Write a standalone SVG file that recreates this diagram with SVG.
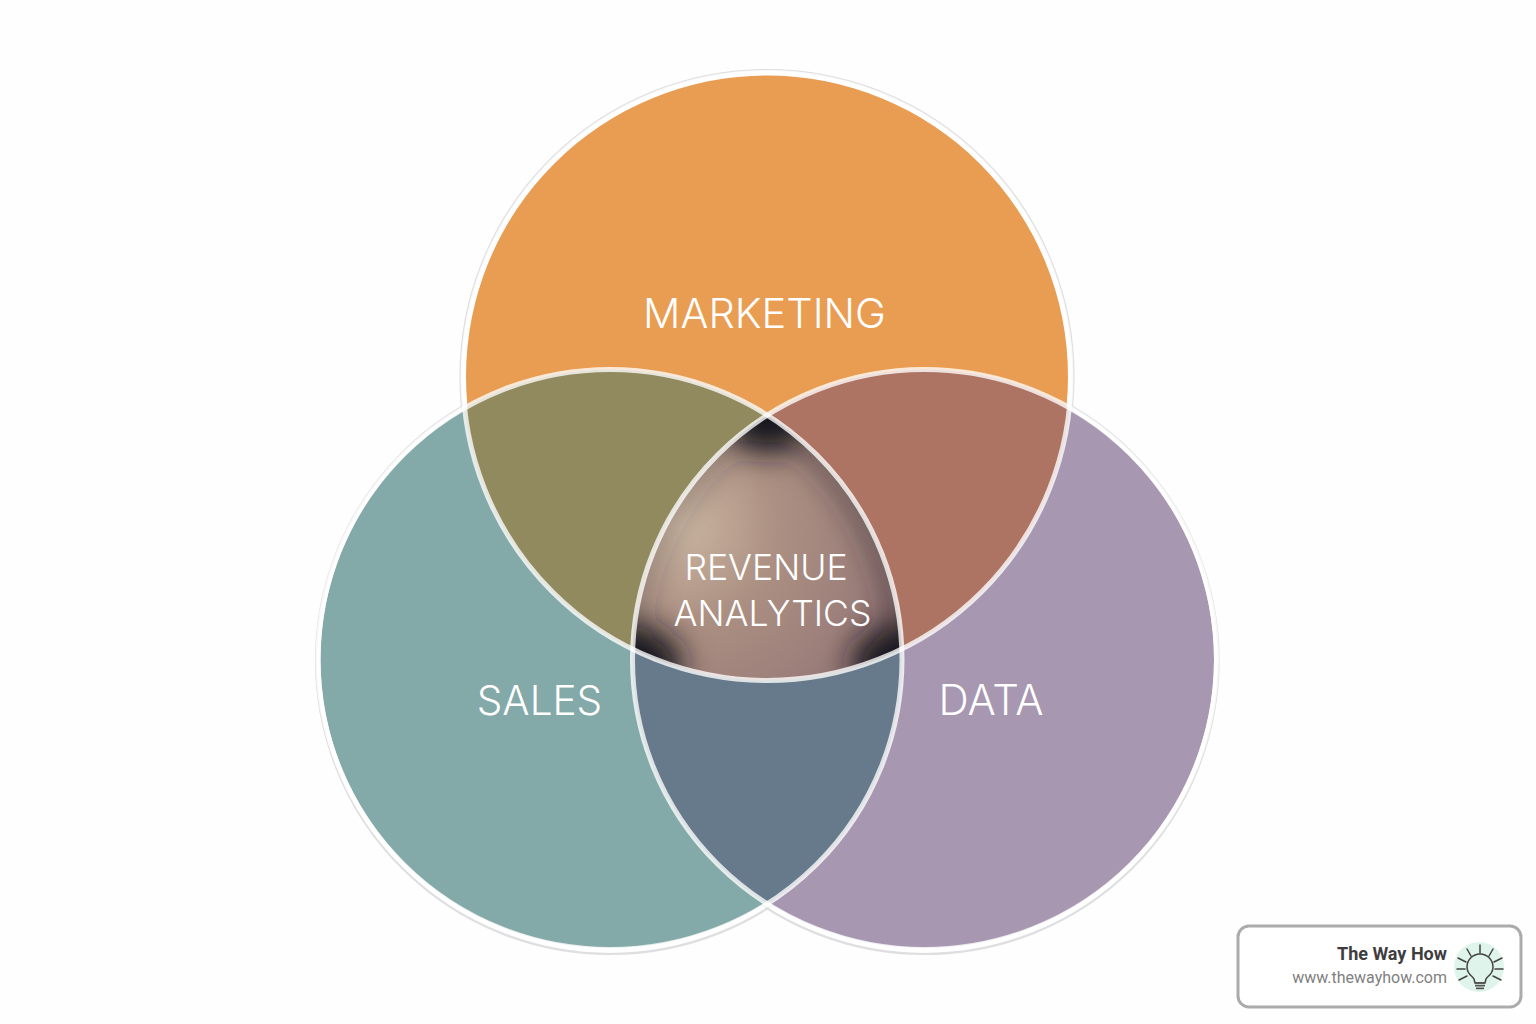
<svg xmlns="http://www.w3.org/2000/svg" width="1536" height="1024" viewBox="0 0 1536 1024">
<style>
.lbl{font-family:"Inter","Liberation Sans",sans-serif;font-weight:340;fill:#fff;text-anchor:middle}
.rev{font-size:35.600px}
.gray{fill:none;stroke:#dfdee1;stroke-width:2.200}
.ring{fill:none;stroke:#fff;stroke-opacity:.78;stroke-width:5}
.tick{stroke:#444;stroke-width:1.5;stroke-linecap:round;fill:none}
</style>
<defs>
<radialGradient id="core" gradientUnits="userSpaceOnUse" cx="680" cy="525" r="250">
<stop offset="0" stop-color="#cbb6a2"/><stop offset=".4" stop-color="#ab8f82"/><stop offset=".75" stop-color="#9c7f7a"/><stop offset="1" stop-color="#8f6f72"/>
</radialGradient>
<filter id="blur" filterUnits="userSpaceOnUse" x="540" y="320" width="460" height="460"><feGaussianBlur stdDeviation="15"/></filter>
<clipPath id="cT"><circle cx="767" cy="376.500" r="304"/></clipPath>
<clipPath id="cL"><ellipse cx="610" cy="659.500" rx="292" ry="290"/></clipPath>
<clipPath id="cR"><ellipse cx="924.500" cy="659.500" rx="292" ry="290"/></clipPath>
</defs>
<rect width="1536" height="1024" fill="#fefefe"/>
<g id="outlines">
<circle class="gray" cx="767" cy="376.500" r="306.500"/>
<ellipse class="gray" cx="610" cy="660.500" rx="294" ry="293.500"/>
<ellipse class="gray" cx="924.500" cy="660.500" rx="294" ry="293.500"/>
</g>
<g id="circle-marketing"><circle cx="767" cy="376.500" r="301" fill="#e99d53"/></g>
<g id="circle-sales"><ellipse cx="610" cy="659.500" rx="289.500" ry="288.500" fill="#83a9a8"/></g>
<g id="circle-data"><ellipse cx="924.500" cy="659.500" rx="289.500" ry="288.500" fill="#a797b1"/></g>
<g id="overlap-marketing-sales" clip-path="url(#cT)"><ellipse cx="610" cy="659.500" rx="292" ry="290" fill="#918a5e"/></g>
<g id="overlap-marketing-data" clip-path="url(#cT)"><ellipse cx="924.500" cy="659.500" rx="292" ry="290" fill="#ad7363"/></g>
<g id="overlap-sales-data" clip-path="url(#cL)"><ellipse cx="924.500" cy="659.500" rx="292" ry="290" fill="#677a8b"/></g>
<g id="overlap-core" clip-path="url(#cT)"><g clip-path="url(#cL)"><g clip-path="url(#cR)">
<rect x="620" y="400" width="300" height="300" fill="url(#core)"/>
<g filter="url(#blur)" fill="#17151b">
<path fill="none" stroke="#2c2730" stroke-opacity=".7" stroke-width="16" d="M767 415A292 290 0 0 1 902 650"/>
<path fill="none" stroke="#2c2730" stroke-opacity=".5" stroke-width="12" d="M767 415A292 290 0 0 0 632 650"/>
<ellipse cx="767" cy="408" rx="42" ry="46"/>
<ellipse cx="626" cy="664" rx="56" ry="40"/>
<ellipse cx="908" cy="664" rx="56" ry="40"/>
</g>
</g></g></g>
<g id="rings">
<circle class="ring" cx="767" cy="376.500" r="304"/>
<ellipse class="ring" cx="610" cy="659.500" rx="292" ry="290"/>
<ellipse class="ring" cx="924.500" cy="659.500" rx="292" ry="290"/>
</g>
<g id="labels">
<text class="lbl" font-size="41.500" x="764.500" y="328">MARKETING</text>
<text class="lbl" font-size="40.500" x="539.500" y="714.500">SALES</text>
<text class="lbl" font-size="42" x="991" y="715">DATA</text>
<text class="lbl rev" x="766" y="580">REVENUE</text>
<text class="lbl rev" x="772.500" y="626">ANALYTICS</text>
</g>
<g id="badge">
<rect x="1238" y="926" width="283" height="81" rx="11" fill="#fff" stroke="#ababab" stroke-width="3"/>
<text x="1447" y="960" text-anchor="end" font-family="Roboto,'Liberation Sans',sans-serif" font-weight="700" font-size="18" fill="#3e3e3e">The Way How</text>
<text x="1447" y="983" text-anchor="end" font-family="Roboto,'Liberation Sans',sans-serif" font-size="16" fill="#7f7f7f">www.thewayhow.com</text>
<circle cx="1479" cy="967" r="25" fill="#dff5ec"/>
<path class="tick" d="M1480 945v8M1467 949l4 7M1493 949l-4 7M1458 958l8 4M1502 958l-8 4M1457 969h8M1495 969h8M1459 980l8-4M1501 980l-8-4"/>
<path class="tick" d="M1475 983l-1-4c-1-3-7-4-7-12a13 13 0 0 1 26 0c0 8-6 9-7 12l-1 4Z"/>
<path d="M1475 982h10v1.800h-10zM1475 984.800h10v1.800h-10zM1476 987.500h8v1.800h-8z" fill="#555"/>
</g>
</svg>
